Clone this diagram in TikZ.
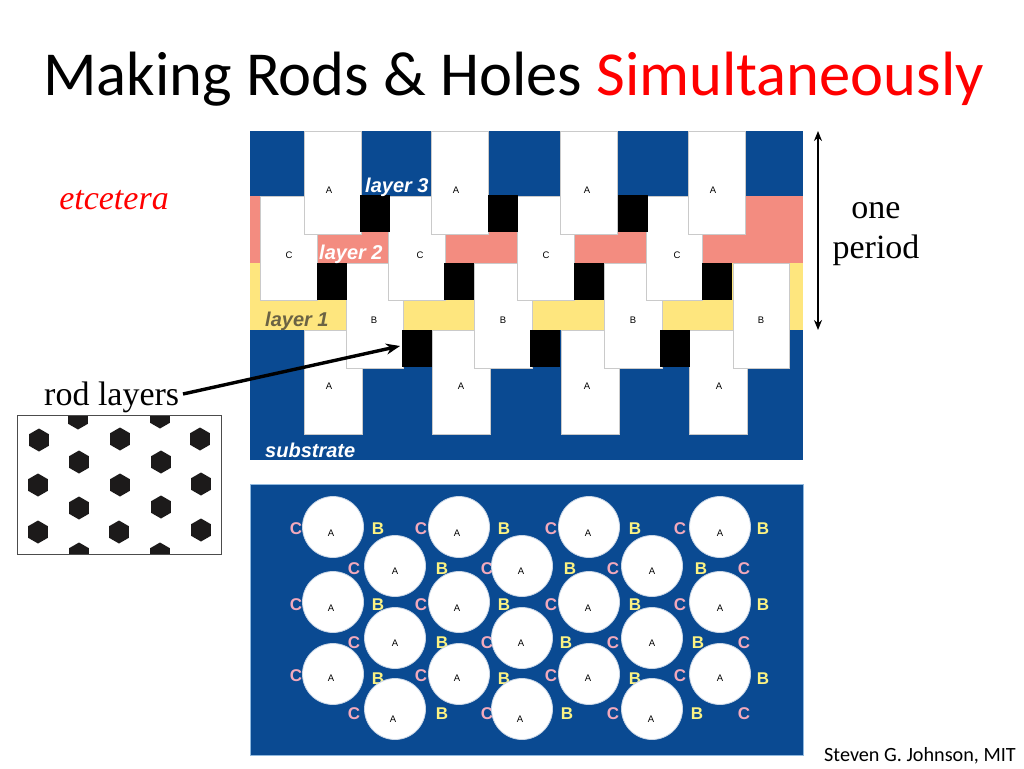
\documentclass[tikz,border=0pt]{standalone}
\usepackage{fontspec}
\usetikzlibrary{arrows.meta}
\setmainfont{Liberation Serif}
\newfontfamily\calib{Carlito}
\newfontfamily\arial{Liberation Sans}
\definecolor{sblue}{HTML}{0A4A92}
\definecolor{spink}{HTML}{F38C80}
\definecolor{syellow}{HTML}{FEE67E}
\definecolor{lpink}{HTML}{F2A9BC}
\definecolor{lyellow}{HTML}{FBF283}
\definecolor{rodedge}{HTML}{CACACA}
\definecolor{holeedge}{HTML}{C9D6E6}
\definecolor{hexfill}{HTML}{1C1A1A}
\definecolor{panedge}{HTML}{8FB8DE}
\definecolor{onelab}{HTML}{6B6344}
\tikzset{
  rod/.style={fill=white,draw=rodedge,line width=0.9pt},
  blk/.style={fill=black},
  hole/.style={fill=white,draw=holeedge,line width=0.8pt},
  tiny/.style={inner sep=0pt,font=\arial\fontsize{9.5}{11}\selectfont},
  layerlab/.style={inner sep=0pt,anchor=base west,font=\arial\bfseries\itshape\fontsize{20}{22}\selectfont},
}
\tikzset{
  cb/.style={inner sep=0pt,yshift=-1pt,font=\arial\bfseries\fontsize{17}{19}\selectfont},
}
\begin{document}
\begin{tikzpicture}[x=1pt,y=-1pt]
\useasboundingbox[fill=white] (0,0) rectangle (1024,768);
% title
\node[inner sep=0pt,anchor=base west,font=\calib\fontsize{62.6}{68}\selectfont] (title) at (43,95) {Making Rods \& Holes \textcolor{red}{Simultaneously}};
% upper panel bands
\fill[sblue] (250,131) rectangle (803,460);
\fill[spink] (250,196) rectangle (803,263);
\fill[syellow] (250,263) rectangle (803,330);
% lower A rods
\foreach \a/\b in {304/362,432/490,561/619,689/747}
  \draw[rod] (\a,330) rectangle (\b,434);
% B rods
\foreach \a/\b in {346/403,474/532,604/662,733/789}
  \draw[rod] (\a,263) rectangle (\b,368);
% C rods
\foreach \a/\b in {260/317,388/445,517/574,646/702}
  \draw[rod] (\a,196) rectangle (\b,300);
% upper A rods
\foreach \a/\b in {304/361,431/488,560/617,688/745}
  \draw[rod] (\a,131) rectangle (\b,234);
% black squares
\foreach \a in {360,488,618} \fill[blk] (\a,195) rectangle +(30,37);
\foreach \a in {317,444,574,702} \fill[blk] (\a,263) rectangle +(30,37);
\foreach \a in {402,530,660} \fill[blk] (\a,329.5) rectangle +(30,37.5);
% rod letters
\foreach \x [count=\i] in {329,456,587,713} \node[tiny] (au\i) at (\x,190) {A};
\foreach \x [count=\i] in {289,420,546,677} \node[tiny] (cu\i) at (\x,255) {C};
\foreach \x [count=\i] in {374,503,633,761} \node[tiny] (bu\i) at (\x,320) {B};
\foreach \x [count=\i] in {329,461,587,719} \node[tiny] (al\i) at (\x,386) {A};
% layer labels
\node[layerlab,text=white] (l3) at (365,192.5) {layer 3};
\node[layerlab,text=white] (l2) at (319,259.5) {layer 2};
\node[layerlab,text=onelab] (l1) at (265,326.5) {layer 1};
\node[layerlab,text=white] (sub) at (265,457) {substrate};
% period arrow
\coordinate (ptop) at (818,131);
\coordinate (pbot) at (818,330);
\draw[{Stealth[length=10pt,width=8pt]}-{Stealth[length=10pt,width=8pt]},line width=1.6pt] (ptop) -- (pbot);
% side text
\node[inner sep=0pt,text=red,font=\itshape\fontsize{34}{38}\selectfont] (etc) at (114,200.5) {etcetera};
\node[inner sep=0pt,align=center,font=\fontsize{34}{40}\selectfont] (period) at (876,234) {one\\period};
\node[inner sep=0pt,anchor=base west,font=\fontsize{34}{38}\selectfont] (rods) at (44,405) {rod layers};
% rod layers arrow
\coordinate (rodtip) at (400,346);
\coordinate (rodtail) at (183,394);
\draw[-{Stealth[length=14pt,width=11pt]},line width=3.4pt] (rodtail) -- (rodtip);
% inset
\begin{scope}
\clip (17.3,415) rectangle (221.7,554);
\foreach \x/\y in {39/440,120/439,200/439,78/418,160/417,79/462,161/462,38/485,120/485,201/484,79/508,161/507,38/532,119/532,201/530,79/554,160/554}
  \fill[hexfill] (\x,\y) ++(90:11.5) -- ++(-30:11.5) -- ++(-90:11.5) -- ++(-150:11.5) -- ++(150:11.5) -- ++(90:11.5) -- cycle;
\end{scope}
\draw[draw=black!70,line width=1pt] (17.3,415) rectangle (221.7,554);
% lower panel
\draw[fill=sblue,draw=panedge,line width=0.7pt] (250,484) rectangle (803,755);
% pink C labels
\foreach \x/\y [count=\i] in {296/528,421/528,551/528,680/528,354/568,487/568,613/568,744/568,296/604,421/604,551/604,680/604,354/642,487/642,613/642,744/642,296/675,421/675,551/675,680/675,354/713,487/713,613/713,744/713}
  \node[cb,text=lpink] (pc\i) at (\x,\y) {C};
% yellow B labels
\foreach \x/\y [count=\i] in {378/528,504/528,635/528,763/528,442/568,570/568,701/568,378/604,504/604,635/604,763/604,442/642,566/642,698/642,378/678,504/678,635/678,763/678,442/713,567/713,697/713}
  \node[cb,text=lyellow] (yb\i) at (\x,\y) {B};
% holes
\foreach \x/\y in {333/527,459/527,589/527,720/527,395/566,522/566,652/566,333/602,459/602,589/602,720/602,395/638,522/638,652/638,333/674,459/674,589/674,720/674,395/709,522/709,652/709}
  \draw[hole] (\x,\y) circle (30.5);
% hole letters
\foreach \x/\y [count=\i] in {331/533,457/533,588/533,720/533,395/571,521/571,652/571,331/608,457/608,588/608,720/608,395/643,521/643,652/643,331/678,457/678,588/678,720/678,393/719,520/719,651/719}
  \node[tiny] (ha\i) at (\x,\y) {A};
% credit
\node[inner sep=0pt,anchor=base west,font=\calib\fontsize{20.2}{22}\selectfont] (credit) at (824,761) {Steven G. Johnson, MIT};
\end{tikzpicture}
\end{document}
